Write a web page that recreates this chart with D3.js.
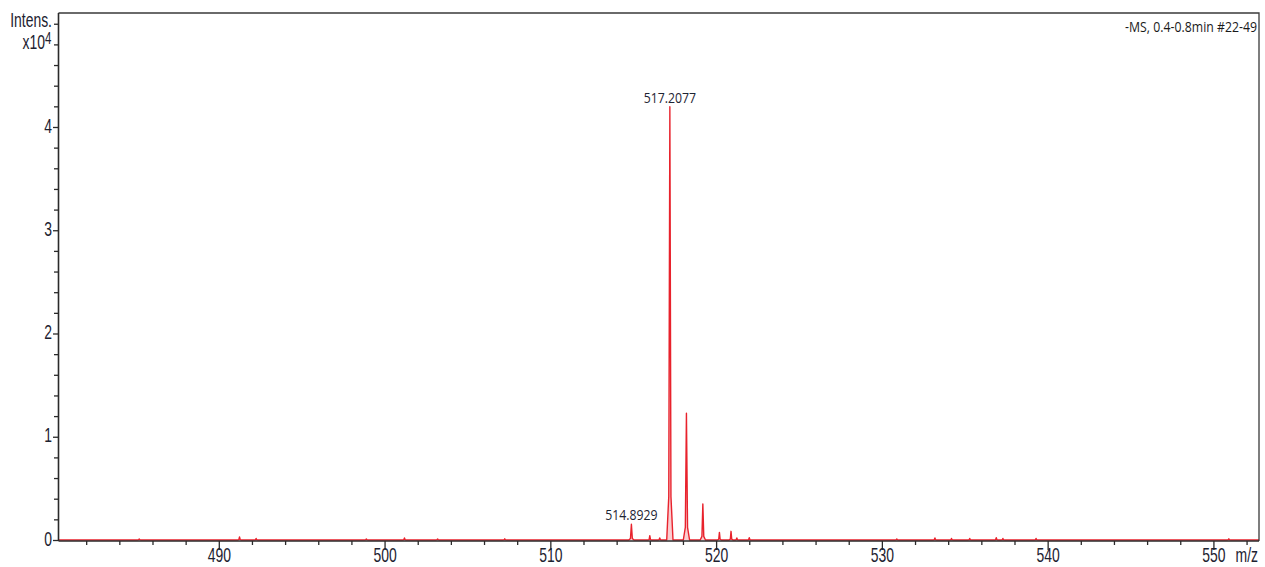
<!DOCTYPE html>
<html>
<head>
<meta charset="utf-8">
<script src="https://cdn.jsdelivr.net/npm/d3@7"></script>
<style>
  html, body { margin: 0; padding: 0; background: #fff; }
  svg { display: block; }
  .ax text { font-family: "Liberation Sans", Arial, sans-serif; fill: #1d2230; }
  .ax line { stroke: #2a2a2a; stroke-width: 1.3; }
</style>
</head>
<body>
<svg id="chart" width="1265" height="567"></svg>
<script>
// ---- data (intensity in units of 10^4) ----
const peakMz = [485.2, 491.25, 492.25, 498.9, 501.2, 503.2, 507.25, 514.89, 516.0, 516.6,
                517.21, 518.21, 519.2, 520.2, 520.9, 521.25, 522.0, 530.9, 533.2, 534.2,
                535.3, 536.9, 537.3, 539.3, 550.93];
const peakIntensity = [0.010, 0.030, 0.015, 0.010, 0.020, 0.010, 0.012, 0.152, 0.042, 0.020,
                       4.197, 1.227, 0.349, 0.074, 0.084, 0.020, 0.022, 0.010, 0.020, 0.015,
                       0.015, 0.022, 0.015, 0.015, 0.012];
const labeledMz = [517.21, 514.89];
const labeledIntensity = [4.197, 0.152];
const labeledText = ["517.2077", "514.8929"];
const xMajorTicks = [490, 500, 510, 520, 530, 540, 550];
const xMinorTicks = [482, 484, 486, 488, 492, 494, 496, 498, 502, 504, 506, 508, 512, 514, 516, 518,
                     522, 524, 526, 528, 532, 534, 536, 538, 542, 544, 546, 548, 552];
const yMajorTicks = [0, 1, 2, 3, 4];
const yMinorTicks = [0.2, 0.4, 0.6, 0.8, 1.2, 1.4, 1.6, 1.8, 2.2, 2.4, 2.6, 2.8, 3.2, 3.4, 3.6, 3.8,
                     4.2, 4.4, 4.6, 4.8, 5.0];
const mzRange = [480.33, 552.75];
const intensityRange = [0, 5.104];
const yTitle = "Intens.";
const yUnit = "x10";
const yUnitExp = "4";
const xTitle = "m/z";
const spectrumTitle = "-MS, 0.4-0.8min #22-49";

// ---- layout ----
const L = 58.5, R = 1259, T = 13, B = 540, AX = 541;
const SX = 0.82, SY = 1.2; // narrow, vertically stretched text as in the reference
const ff = '"Liberation Sans", Arial, sans-serif';

const svg = d3.select("#chart");
const x = d3.scaleLinear().domain(mzRange).range([L, R]);
const y = d3.scaleLinear().domain(intensityRange).range([B, T]);

// ---- spectrum trace (profile built from peak list) ----
const pts = [[mzRange[0], 0]];
const order = d3.range(peakMz.length).sort((a, b) => peakMz[a] - peakMz[b]);
order.forEach(i => {
  const m = peakMz[i], h = peakIntensity[i];
  const hw = h > 1 ? 0.19 : (h > 0.1 ? 0.16 : 0.12);
  pts.push([m - hw, 0], [m - hw * 0.35, h * 0.1], [m, h], [m + hw * 0.35, h * 0.1], [m + hw, 0]);
});
pts.push([mzRange[1], 0]);

const area = d3.area().x(d => x(d[0])).y0(y(0)).y1(d => y(d[1]));
const line = d3.line().x(d => x(d[0])).y(d => y(d[1]));

svg.append("clipPath").attr("id", "clip")
  .append("rect").attr("x", L).attr("y", T).attr("width", R - L).attr("height", B - T + 1);

const g = svg.append("g").attr("clip-path", "url(#clip)");
g.append("path").datum(pts).attr("d", area)
  .attr("fill", "rgba(240,90,100,0.3)").attr("stroke", "none");
g.append("path").datum(pts).attr("d", line)
  .attr("fill", "none").attr("stroke", "#e8222c").attr("stroke-width", 1.4)
  .attr("stroke-linejoin", "round");

// ---- frame ----
svg.append("path")
  .attr("d", `M${L},${T}H${R}V${AX}`)
  .attr("fill", "none").attr("stroke", "#3a3a3a").attr("stroke-width", 1.3);

// ---- x axis ----
const gxMinor = svg.append("g").attr("class", "ax").attr("transform", `translate(0,${AX})`)
  .call(d3.axisBottom(x).tickValues(xMinorTicks).tickSize(4).tickFormat(""));
const gx = svg.append("g").attr("class", "ax").attr("transform", `translate(0,${AX})`)
  .call(d3.axisBottom(x).tickValues(xMajorTicks).tickSize(9).tickFormat(d3.format("d")));
[gxMinor, gx].forEach(a => a.select(".domain").remove());
svg.append("line").attr("x1", L).attr("x2", R).attr("y1", AX).attr("y2", AX)
  .attr("stroke", "#2a2a2a").attr("stroke-width", 1.5);
gx.selectAll("text")
  .attr("y", 0).attr("dy", 0)
  .attr("transform", `translate(0,21) scale(${SX},${SY})`)
  .style("font-size", "17px");

svg.append("text")
  .attr("transform", `translate(${R - 1},${AX + 21}) scale(${SX},${SY})`)
  .attr("text-anchor", "end").style("font-family", ff)
  .style("font-size", "17px").attr("fill", "#1d2230")
  .text(xTitle);

// ---- y axis ----
const gyMinor = svg.append("g").attr("class", "ax").attr("transform", `translate(${L},0)`)
  .call(d3.axisLeft(y).tickValues(yMinorTicks).tickSize(4.5).tickFormat(""));
const gy = svg.append("g").attr("class", "ax").attr("transform", `translate(${L},0)`)
  .call(d3.axisLeft(y).tickValues(yMajorTicks).tickSize(5.5).tickFormat(d3.format("d")));
[gyMinor, gy].forEach(a => a.select(".domain").remove());
svg.append("line").attr("x1", L).attr("x2", L).attr("y1", T).attr("y2", AX)
  .attr("stroke", "#2a2a2a").attr("stroke-width", 1.6);
gy.selectAll("text")
  .attr("x", 0).attr("dy", 0)
  .attr("transform", `translate(-6.5,5.2) scale(${SX},${SY})`)
  .style("font-size", "17px");

// y title (Intens. x10^4)
svg.append("text")
  .attr("transform", `translate(52,${y(5.0) + 3.5}) scale(${SX},${SY})`)
  .attr("text-anchor", "end").style("font-family", ff).style("font-size", "17px")
  .attr("fill", "#1d2230").text(yTitle);
svg.append("text")
  .attr("transform", `translate(45,${y(4.8) + 5}) scale(${SX},${SY})`)
  .attr("text-anchor", "end").style("font-family", ff).style("font-size", "17px")
  .attr("fill", "#1d2230").text(yUnit);
svg.append("text")
  .attr("transform", `translate(45,${y(4.8) - 0.5}) scale(${SX},${SY})`)
  .attr("text-anchor", "start").style("font-family", ff).style("font-size", "14px")
  .attr("fill", "#1d2230").text(yUnitExp);

// ---- spectrum title ----
svg.append("text")
  .attr("transform", `translate(1257,32) scale(1,${SY})`)
  .attr("text-anchor", "end").style("font-family", '"Open Sans", sans-serif')
  .style("font-size", "12.3px").attr("fill", "#1a1a1a").text(spectrumTitle);

// ---- peak labels ----
labeledMz.forEach((m, i) => {
  svg.append("text")
    .attr("transform", `translate(${x(m)},${y(labeledIntensity[i]) - 4}) scale(1,${SY})`)
    .attr("text-anchor", "middle").style("font-family", '"Open Sans", sans-serif')
    .style("font-size", "12.3px").attr("fill", "#1e2433").text(labeledText[i]);
});
</script>
</body>
</html>
